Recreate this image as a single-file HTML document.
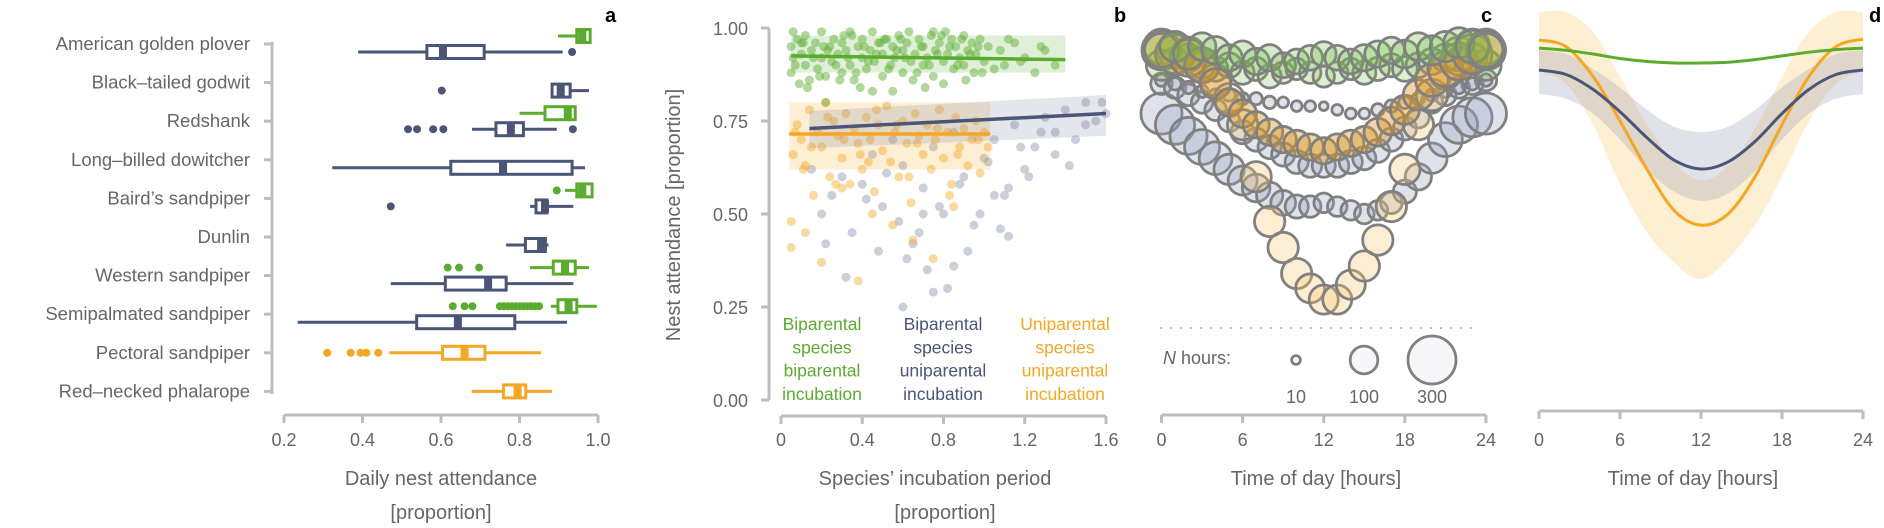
<!DOCTYPE html>
<html><head><meta charset="utf-8">
<style>
html,body{margin:0;padding:0;background:#fff;}
svg{display:block;font-family:"Liberation Sans",sans-serif;}
</style></head>
<body>
<svg id="fig" width="1884" height="528" viewBox="0 0 1884 528" xmlns="http://www.w3.org/2000/svg"></svg>
<script>
// ---------- Panel a data ----------
const aSpecies = ["American golden plover","Black\u2013tailed godwit","Redshank","Long\u2013billed dowitcher","Baird\u2019s sandpiper","Dunlin","Western sandpiper","Semipalmated sandpiper","Pectoral sandpiper","Red\u2013necked phalarope"];
const aXTicks = [0.2,0.4,0.6,0.8,1.0];
const aXTickLabels = ["0.2","0.4","0.6","0.8","1.0"];
const aGroupSpecies = [0,0,1,2,2,3,4,4,5,6,6,7,7,8,9];
const aGroupType = ["bb","bu","bu","bb","bu","bu","bb","bu","bu","bb","bu","bb","bu","uu","uu"];
const aMin = [0.898,0.389,0.883,0.80,0.679,0.323,0.916,0.827,0.766,0.827,0.472,0.88,0.235,0.468,0.678];
const aQ1  = [0.946,0.564,0.883,0.865,0.74,0.625,0.946,0.842,0.815,0.886,0.611,0.898,0.538,0.604,0.759];
const aMed = [0.96,0.605,0.905,0.923,0.778,0.758,0.96,0.865,0.855,0.916,0.72,0.925,0.643,0.66,0.795];
const aQ3  = [0.98,0.71,0.929,0.942,0.81,0.934,0.985,0.87,0.866,0.942,0.766,0.946,0.788,0.712,0.816];
const aMax = [0.98,0.91,0.977,0.942,0.895,0.967,0.985,0.937,0.874,0.977,0.937,0.997,0.921,0.855,0.883];
const aOutliers = [[],[0.934],[0.602],[],[0.516,0.539,0.58,0.606,0.936],[],[0.895],[0.472],[],[0.617,0.646,0.697],[],[0.63,0.66,0.68,0.75,0.76,0.77,0.78,0.79,0.80,0.81,0.82,0.83,0.84,0.85],[],[0.31,0.37,0.395,0.41,0.44],[]];

// ---------- Panel b data ----------
const bXTicks = [0,0.4,0.8,1.2,1.6];
const bXTickLabels = ["0","0.4","0.8","1.2","1.6"];
const bYTicks = [0,0.25,0.5,0.75,1.0];
const bYTickLabels = ["0.00","0.25","0.50","0.75","1.00"];
const bGreenX = [0.05,0.05,0.06,0.08,0.09,0.1,0.12,0.12,0.14,0.15,0.17,0.18,0.2,0.2,0.22,0.24,0.25,0.26,0.28,0.3,0.3,0.32,0.34,0.35,0.36,0.38,0.4,0.4,0.42,0.44,0.45,0.46,0.48,0.5,0.5,0.52,0.54,0.55,0.56,0.58,0.6,0.6,0.62,0.64,0.65,0.66,0.68,0.7,0.7,0.72,0.74,0.75,0.76,0.78,0.8,0.8,0.82,0.84,0.85,0.86,0.88,0.9,0.9,0.92,0.94,0.95,0.96,0.98,1.0,1.02,1.05,1.08,1.1,1.15,1.2,1.25,1.3,1.35,0.22,0.45,
  0.07,0.11,0.16,0.19,0.23,0.27,0.31,0.33,0.37,0.41,0.43,0.47,0.51,0.53,0.57,0.61,0.63,0.67,0.69,0.73,0.77,0.79,0.83,0.87,0.89,0.93,0.97,0.99,0.06,0.13,0.21,0.29,0.39,0.49,0.59,0.71,0.81,0.91,0.1,0.34,0.55,0.75,1.12,1.18,1.28];
const bGreenY = [0.95,0.88,0.92,0.97,0.85,0.93,0.9,0.98,0.86,0.94,0.96,0.89,0.92,0.99,0.87,0.95,0.91,0.97,0.93,0.88,0.96,0.94,0.9,0.98,0.86,0.95,0.92,0.97,0.89,0.94,0.99,0.91,0.96,0.87,0.93,0.97,0.9,0.95,0.92,0.98,0.88,0.94,0.96,0.91,0.86,0.93,0.97,0.9,0.95,0.92,0.98,0.87,0.94,0.96,0.91,0.85,0.93,0.97,0.89,0.95,0.92,0.98,0.9,0.94,0.96,0.88,0.93,0.97,0.91,0.95,0.89,0.94,0.9,0.96,0.92,0.88,0.94,0.9,0.8,0.83,
  0.9,0.96,0.92,0.87,0.94,0.9,0.98,0.92,0.88,0.95,0.91,0.93,0.97,0.89,0.94,0.92,0.99,0.88,0.95,0.9,0.93,0.98,0.95,0.9,0.97,0.93,0.95,0.88,0.99,0.84,0.95,0.86,0.84,0.96,0.97,0.84,0.99,0.86,0.96,0.99,0.83,0.99,0.97,0.91,0.95];
const bOrangeX = [0.05,0.06,0.08,0.1,0.12,0.14,0.16,0.18,0.2,0.22,0.24,0.26,0.28,0.3,0.32,0.34,0.36,0.38,0.4,0.42,0.44,0.46,0.48,0.5,0.52,0.54,0.56,0.58,0.6,0.62,0.64,0.66,0.68,0.7,0.72,0.74,0.76,0.78,0.8,0.82,0.84,0.86,0.88,0.9,0.92,0.94,0.96,0.98,1.0,1.02,0.05,0.12,0.2,0.3,0.38,0.45,0.55,0.65,0.75,0.85,
  0.07,0.15,0.23,0.31,0.39,0.47,0.57,0.67,0.77,0.87,0.97,0.11,0.27,0.43,0.63,0.83];
const bOrangeY = [0.48,0.66,0.74,0.7,0.63,0.78,0.55,0.72,0.68,0.8,0.6,0.75,0.71,0.65,0.77,0.58,0.73,0.69,0.62,0.76,0.7,0.56,0.74,0.67,0.79,0.64,0.72,0.6,0.75,0.69,0.53,0.77,0.71,0.66,0.74,0.62,0.7,0.78,0.65,0.72,0.58,0.76,0.68,0.73,0.63,0.7,0.75,0.61,0.72,0.68,0.41,0.45,0.37,0.57,0.32,0.5,0.47,0.43,0.38,0.52,
  0.72,0.68,0.76,0.7,0.66,0.78,0.74,0.69,0.73,0.66,0.7,0.62,0.58,0.64,0.6,0.55];
const bBlueX = [0.15,0.2,0.25,0.3,0.35,0.4,0.45,0.5,0.55,0.6,0.65,0.7,0.75,0.8,0.85,0.9,0.95,1.0,1.05,1.1,1.15,1.2,1.25,1.3,1.35,1.4,1.45,1.5,1.55,1.6,0.22,0.32,0.42,0.52,0.62,0.68,0.72,0.78,0.82,0.88,0.92,0.98,1.02,1.08,1.12,1.18,1.22,1.28,1.35,1.42,1.5,1.58,0.6,0.75,0.85,0.58,0.7,0.48,1.05,1.12];
const bBlueY = [0.62,0.5,0.55,0.6,0.45,0.58,0.66,0.52,0.7,0.63,0.42,0.57,0.68,0.5,0.72,0.6,0.47,0.65,0.7,0.55,0.74,0.62,0.68,0.76,0.72,0.78,0.7,0.8,0.75,0.77,0.42,0.33,0.54,0.61,0.38,0.45,0.35,0.52,0.3,0.58,0.4,0.5,0.64,0.46,0.57,0.68,0.6,0.72,0.66,0.63,0.74,0.8,0.25,0.29,0.36,0.48,0.5,0.4,0.55,0.44];
const bFitGreenX = [0.05,1.4], bFitGreenY = [0.925,0.915], bBandGreen = [0.88,0.98,0.88,0.98];
const bFitOrangeX = [0.04,1.03], bFitOrangeY = [0.715,0.715], bBandOrange = [0.62,0.80,0.62,0.80];
const bFitBlueX = [0.14,1.6], bFitBlueY = [0.73,0.77], bBandBlue = [0.677,0.777,0.71,0.82];

// ---------- Panel c data (hourly, 0..24) ----------
const cHours = [0,1,2,3,4,5,6,7,8,9,10,11,12,13,14,15,16,17,18,19,20,21,22,23,24];
const cXTicks = [0,6,12,18,24];
const cGreen = [0.94,0.95,0.93,0.95,0.94,0.92,0.93,0.91,0.92,0.9,0.91,0.92,0.93,0.92,0.91,0.92,0.93,0.94,0.93,0.95,0.94,0.95,0.96,0.95,0.94];
const cGreenN = [150,120,120,100,100,90,90,90,90,80,80,80,80,80,80,90,90,90,100,100,110,120,120,140,150];
const cGreen2 = [0.9,0.91,0.92,0.9,0.89,0.9,0.88,0.89,0.87,0.88,0.89,0.88,0.87,0.88,0.89,0.88,0.89,0.9,0.89,0.9,0.91,0.92,0.91,0.92,0.9];
const cGreen2N = [120,100,100,90,80,80,70,70,70,60,60,60,60,60,60,70,70,70,80,80,90,100,100,110,120];
const cBlue1 = [0.77,0.74,0.71,0.68,0.65,0.62,0.59,0.57,0.55,0.53,0.52,0.52,0.53,0.52,0.51,0.5,0.51,0.53,0.56,0.6,0.65,0.7,0.74,0.76,0.77];
const cBlue1N = [220,200,180,160,140,120,110,100,90,80,70,60,50,50,50,50,50,60,70,90,120,150,180,200,220];
const cBlue2 = [0.85,0.84,0.82,0.8,0.78,0.75,0.72,0.7,0.68,0.66,0.64,0.63,0.63,0.63,0.64,0.65,0.67,0.7,0.73,0.76,0.8,0.82,0.84,0.85,0.86];
const cBlue2N = [60,60,60,60,60,60,70,70,70,70,70,70,70,70,70,70,70,70,70,60,60,60,60,60,60];
const cBlue3 = [0.86,0.85,0.84,0.83,0.82,0.82,0.81,0.81,0.8,0.8,0.79,0.79,0.79,0.78,0.77,0.77,0.78,0.79,0.8,0.81,0.82,0.83,0.84,0.85,0.86];
const cBlue3N = [20,20,20,20,20,20,20,20,20,15,15,15,10,15,15,15,20,20,20,20,20,20,20,20,20];
const cOrange1 = [0.94,0.93,0.92,0.9,0.85,0.8,0.77,0.74,0.72,0.7,0.69,0.68,0.67,0.68,0.69,0.7,0.72,0.75,0.78,0.82,0.86,0.89,0.91,0.93,0.94];
const cOrange1N = [200,200,180,160,120,100,100,90,90,90,90,90,90,90,90,90,100,100,110,120,140,160,180,200,200];
const cOrange2 = [0.95,0.94,0.93,0.9,0.86,0.81,0.74,0.6,0.48,0.41,0.34,0.3,0.27,0.27,0.31,0.36,0.43,0.52,0.62,0.74,0.82,0.88,0.93,0.95,0.95];
const cOrange2N = [160,160,150,140,130,120,120,120,120,120,120,110,110,110,110,120,120,120,120,120,130,140,150,160,160];
const cLegendN = [10,100,300];

// ---------- Panel d data (every 2 h) ----------
const dHours = [0,2,4,6,8,10,12,14,16,18,20,22,24];
const dGreen = [0.946,0.94,0.93,0.918,0.91,0.906,0.906,0.908,0.915,0.925,0.935,0.942,0.946];
const dBlue = [0.887,0.875,0.835,0.775,0.705,0.645,0.621,0.64,0.695,0.77,0.835,0.875,0.887];
const dBlueLo = [0.823,0.81,0.77,0.70,0.62,0.56,0.535,0.555,0.615,0.70,0.77,0.81,0.823];
const dBlueHi = [0.94,0.93,0.89,0.84,0.78,0.735,0.72,0.735,0.78,0.84,0.89,0.93,0.94];
const dOrange = [0.968,0.95,0.87,0.75,0.62,0.51,0.47,0.50,0.60,0.74,0.87,0.95,0.97];
const dOrangeLo = [0.884,0.85,0.74,0.58,0.45,0.37,0.325,0.38,0.47,0.60,0.75,0.85,0.884];
const dOrangeHi = [1.043,1.043,0.99,0.87,0.74,0.64,0.59,0.63,0.73,0.87,0.99,1.043,1.043];

// ---------- scales ----------
const ax = v => 284 + (v - 0.2) * 392.5;
const aRowY = i => 44 + i * 38.6;
const bx = v => 781 + v * 203.1;
const by = v => 400 - v * 372;
const cx = h => 1161.5 + h * 13.52;
const cy = v => 400 - v * 372;
const dx = h => 1539 + h * 13.5;
const dy = v => 400 - v * 372;
const rN = n => 24 * Math.sqrt(n / 300);

const BLUE = "#4b5578", GREEN = "#5aab2e", ORANGE = "#f5a623", GREY = "#666", AXIS = "#bdbdbd";
const typeColor = {bb: GREEN, bu: BLUE, uu: ORANGE};
const typeOffset = {bb: -8, bu: 8, uu: 0};

const svg = document.getElementById("fig");
const NS = "http://www.w3.org/2000/svg";
function mk(tag, attrs, parent) {
  const e = document.createElementNS(NS, tag);
  for (const k in attrs) e.setAttribute(k, attrs[k]);
  (parent || svg).appendChild(e);
  return e;
}
function txt(s, attrs, parent) { const t = mk("text", attrs, parent); t.textContent = s; return t; }
function grp(name) {
  const g = mk("g", {});
  
  
  return g;
}

// ================= Panel a =================
const ga = grp("panel-a");
let e;
e = mk("line", {x1: 272, y1: 42, x2: 272, y2: 394, stroke: AXIS, "stroke-width": 3}, ga);


aSpecies.forEach((s, i) => {
  const y = aRowY(i);
  mk("line", {x1: 264, y1: y, x2: 272, y2: y, stroke: AXIS, "stroke-width": 3}, ga);
  const t = txt(s, {x: 250, y: y + 6, "text-anchor": "end", "font-size": 18.5, fill: GREY}, ga);
  
  
});
e = mk("line", {x1: 284, y1: 415, x2: 598, y2: 415, stroke: AXIS, "stroke-width": 3}, ga);


aXTicks.forEach((v, i) => {
  mk("line", {x1: ax(v), y1: 415, x2: ax(v), y2: 423, stroke: AXIS, "stroke-width": 3}, ga);
  const t = txt(aXTickLabels[i], {x: ax(v), y: 446, "text-anchor": "middle", "font-size": 18, fill: GREY}, ga);
  
  
});
e = txt("Daily nest attendance", {x: 441, y: 485, "text-anchor": "middle", "font-size": 20, fill: GREY}, ga);


e = txt("[proportion]", {x: 441, y: 519, "text-anchor": "middle", "font-size": 20, fill: GREY}, ga);


aGroupSpecies.forEach((si, g) => {
  const c = typeColor[aGroupType[g]];
  const y = aRowY(si) + typeOffset[aGroupType[g]];
  const bg = mk("g", {}, ga);
  
  
  mk("line", {x1: ax(aMin[g]), y1: y, x2: ax(aMax[g]), y2: y, stroke: c, "stroke-width": 3}, bg);
  mk("rect", {x: ax(aQ1[g]), y: y - 6.5, width: Math.max(ax(aQ3[g]) - ax(aQ1[g]), 2), height: 13, fill: "#fff", stroke: c, "stroke-width": 3}, bg);
  mk("rect", {x: ax(aMed[g]) - 4, y: y - 6.5, width: 8, height: 13, fill: c}, bg);
  aOutliers[g].forEach(o => {
    const d = mk("circle", {cx: ax(o), cy: y, r: 4, fill: c}, bg);
    
    
  });
});
e = txt("a", {x: 605, y: 22, "font-size": 20, "font-weight": "bold", fill: "#000"}, ga);



// ================= Panel b =================
const gb = grp("panel-b");
e = mk("line", {x1: 769, y1: 28, x2: 769, y2: 400, stroke: AXIS, "stroke-width": 3}, gb);


bYTicks.forEach((v, i) => {
  mk("line", {x1: 761, y1: by(v), x2: 769, y2: by(v), stroke: AXIS, "stroke-width": 3}, gb);
  const t = txt(bYTickLabels[i], {x: 748, y: by(v) + 7, "text-anchor": "end", "font-size": 18, fill: GREY}, gb);
  
  
});
e = txt("Nest attendance [proportion]", {x: 0, y: 0, "text-anchor": "middle", "font-size": 20, fill: GREY, transform: "translate(680,215) rotate(-90)"}, gb);


e = mk("line", {x1: 781, y1: 416, x2: 1106, y2: 416, stroke: AXIS, "stroke-width": 3}, gb);


bXTicks.forEach((v, i) => {
  mk("line", {x1: bx(v), y1: 416, x2: bx(v), y2: 424, stroke: AXIS, "stroke-width": 3}, gb);
  const t = txt(bXTickLabels[i], {x: bx(v), y: 446, "text-anchor": "middle", "font-size": 18, fill: GREY}, gb);
  
  
});
e = txt("Species\u2019 incubation period", {x: 935, y: 485, "text-anchor": "middle", "font-size": 20, fill: GREY}, gb);


e = txt("[proportion]", {x: 945, y: 519, "text-anchor": "middle", "font-size": 20, fill: GREY}, gb);


function band(fx, b, fill, parent, name) {
  const p = mk("polygon", {points: `${bx(fx[0])},${by(b[1])} ${bx(fx[1])},${by(b[3])} ${bx(fx[1])},${by(b[2])} ${bx(fx[0])},${by(b[0])}`, fill: fill}, parent);
  
  
}
function pts(xs, ys, fill, parent, name) {
  const n = Math.min(xs.length, ys.length);
  for (let i = 0; i < n; i++) {
    const c = mk("circle", {cx: bx(xs[i]), cy: by(ys[i]), r: 4.5, fill: fill}, parent);
    
    
  }
}
function fit(fx, fy, col, parent, name) {
  const l = mk("line", {x1: bx(fx[0]), y1: by(fy[0]), x2: bx(fx[1]), y2: by(fy[1]), stroke: col, "stroke-width": 3.5}, parent);
  
  
}
pts(bBlueX, bBlueY, "rgba(140,148,175,0.45)", gb, "point-uniparental-incubation");
pts(bOrangeX, bOrangeY, "rgba(245,170,40,0.45)", gb, "point-uniparental-species");
pts(bGreenX, bGreenY, "rgba(100,175,60,0.5)", gb, "point-biparental");
band(bFitGreenX, bBandGreen, "rgba(100,180,60,0.2)", gb, "ci-band-biparental");
band(bFitOrangeX, bBandOrange, "rgba(245,170,40,0.2)", gb, "ci-band-uniparental-species");
band(bFitBlueX, bBandBlue, "rgba(120,130,160,0.2)", gb, "ci-band-uniparental-incubation");
fit(bFitGreenX, bFitGreenY, GREEN, gb, "fit-line-biparental");
fit(bFitOrangeX, bFitOrangeY, ORANGE, gb, "fit-line-uniparental-species");
fit(bFitBlueX, bFitBlueY, BLUE, gb, "fit-line-uniparental-incubation");
const legCols = [[822, GREEN, ["Biparental","species","biparental","incubation"], "legend-biparental"],
                 [943, BLUE, ["Biparental","species","uniparental","incubation"], "legend-uniparental-incubation"],
                 [1065, ORANGE, ["Uniparental","species","uniparental","incubation"], "legend-uniparental-species"]];
legCols.forEach(([x, col, lines, name]) => {
  const t = mk("text", {x: x, y: 330, "text-anchor": "middle", "font-size": 17.5, fill: col}, gb);
  
  
  lines.forEach((s, i) => { const ts = mk("tspan", {x: x, y: 330 + i * 23.3}, t); ts.textContent = s; });
});
e = txt("b", {x: 1114, y: 22, "font-size": 20, "font-weight": "bold", fill: "#000"}, gb);



// ================= Panel c =================
const gc = grp("panel-c");
function bubbles(vals, ns, fill, name) {
  cHours.forEach((h, i) => {
    if (vals[i] === undefined) return;
    const c = mk("circle", {cx: cx(h), cy: cy(vals[i]), r: rN(ns[i]), fill: fill, stroke: "#808080", "stroke-width": 2.8}, gc);
    
    
  });
}
bubbles(cBlue1, cBlue1N, "rgba(150,160,190,0.3)", "bubble-uniparental-incubation");
bubbles(cBlue2, cBlue2N, "rgba(150,160,190,0.3)", "bubble-uniparental-incubation");
bubbles(cBlue3, cBlue3N, "rgba(150,160,190,0.3)", "bubble-uniparental-incubation");
bubbles(cOrange2, cOrange2N, "rgba(250,200,110,0.3)", "bubble-uniparental-species");
bubbles(cGreen2, cGreen2N, "rgba(120,190,80,0.25)", "bubble-biparental");
bubbles(cOrange1, cOrange1N, "rgba(215,150,40,0.4)", "bubble-uniparental-species");
bubbles(cGreen, cGreenN, "rgba(120,190,80,0.3)", "bubble-biparental");
e = mk("line", {x1: 1160, y1: 328, x2: 1478, y2: 328, stroke: "#bbb", "stroke-width": 2, "stroke-dasharray": "2 8"}, gc);


e = txt("", {x: 1163, y: 364, "font-size": 18, fill: GREY}, gc);


{ const t1 = mk("tspan", {"font-style": "italic"}, e); t1.textContent = "N"; const t2 = mk("tspan", {}, e); t2.textContent = " hours:"; }
const legX = [1296, 1364, 1432];
cLegendN.forEach((n, i) => {
  const c = mk("circle", {cx: legX[i], cy: 360, r: rN(n), fill: "rgba(230,230,235,0.3)", stroke: "#808080", "stroke-width": 2.8}, gc);
  
  
  const t = txt(String(n), {x: legX[i], y: 403, "text-anchor": "middle", "font-size": 18, fill: GREY}, gc);
  
  
});
e = mk("line", {x1: 1161.5, y1: 415, x2: 1486, y2: 415, stroke: AXIS, "stroke-width": 3}, gc);


cXTicks.forEach(h => {
  mk("line", {x1: cx(h), y1: 415, x2: cx(h), y2: 423, stroke: AXIS, "stroke-width": 3}, gc);
  const t = txt(String(h), {x: cx(h), y: 446, "text-anchor": "middle", "font-size": 18, fill: GREY}, gc);
  
  
});
e = txt("Time of day [hours]", {x: 1316, y: 485, "text-anchor": "middle", "font-size": 20, fill: GREY}, gc);


e = txt("c", {x: 1481, y: 22, "font-size": 20, "font-weight": "bold", fill: "#000"}, gc);



// ================= Panel d =================
const gd = grp("panel-d");
function smoothPath(xs, ys) {
  const P = xs.map((x, i) => [x, ys[i]]);
  let d = `M${P[0][0]},${P[0][1]}`;
  for (let i = 0; i < P.length - 1; i++) {
    const p0 = P[Math.max(i - 1, 0)], p1 = P[i], p2 = P[i + 1], p3 = P[Math.min(i + 2, P.length - 1)];
    const c1 = [p1[0] + (p2[0] - p0[0]) / 6, p1[1] + (p2[1] - p0[1]) / 6];
    const c2 = [p2[0] - (p3[0] - p1[0]) / 6, p2[1] - (p3[1] - p1[1]) / 6];
    d += ` C${c1[0]},${c1[1]} ${c2[0]},${c2[1]} ${p2[0]},${p2[1]}`;
  }
  return d;
}
function dBand(lo, hi, fill, name) {
  const xs = dHours.map(dx);
  const top = smoothPath(xs, hi.map(dy));
  const rx = xs.slice().reverse(), rl = lo.map(dy).reverse();
  const bot = smoothPath(rx, rl).replace(/^M/, "L");
  const p = mk("path", {d: top + " " + bot + " Z", fill: fill}, gd);
  
  
}
function dLine(vals, col, name) {
  const p = mk("path", {d: smoothPath(dHours.map(dx), vals.map(dy)), fill: "none", stroke: col, "stroke-width": 3}, gd);
  
  
}
dBand(dOrangeLo, dOrangeHi, "rgba(250,190,80,0.25)", "ci-band-uniparental-species");
dBand(dBlueLo, dBlueHi, "rgba(130,140,170,0.25)", "ci-band-uniparental-incubation");
dLine(dOrange, ORANGE, "curve-uniparental-species");
dLine(dBlue, BLUE, "curve-uniparental-incubation");
dLine(dGreen, GREEN, "curve-biparental");
e = mk("line", {x1: 1539, y1: 411, x2: 1863, y2: 411, stroke: AXIS, "stroke-width": 3}, gd);


cXTicks.forEach(h => {
  mk("line", {x1: dx(h), y1: 411, x2: dx(h), y2: 419, stroke: AXIS, "stroke-width": 3}, gd);
  const t = txt(String(h), {x: dx(h), y: 446, "text-anchor": "middle", "font-size": 18, fill: GREY}, gd);
  
  
});
e = txt("Time of day [hours]", {x: 1693, y: 485, "text-anchor": "middle", "font-size": 20, fill: GREY}, gd);


e = txt("d", {x: 1869, y: 22, "font-size": 20, "font-weight": "bold", fill: "#000"}, gd);


</script>
</body></html>
